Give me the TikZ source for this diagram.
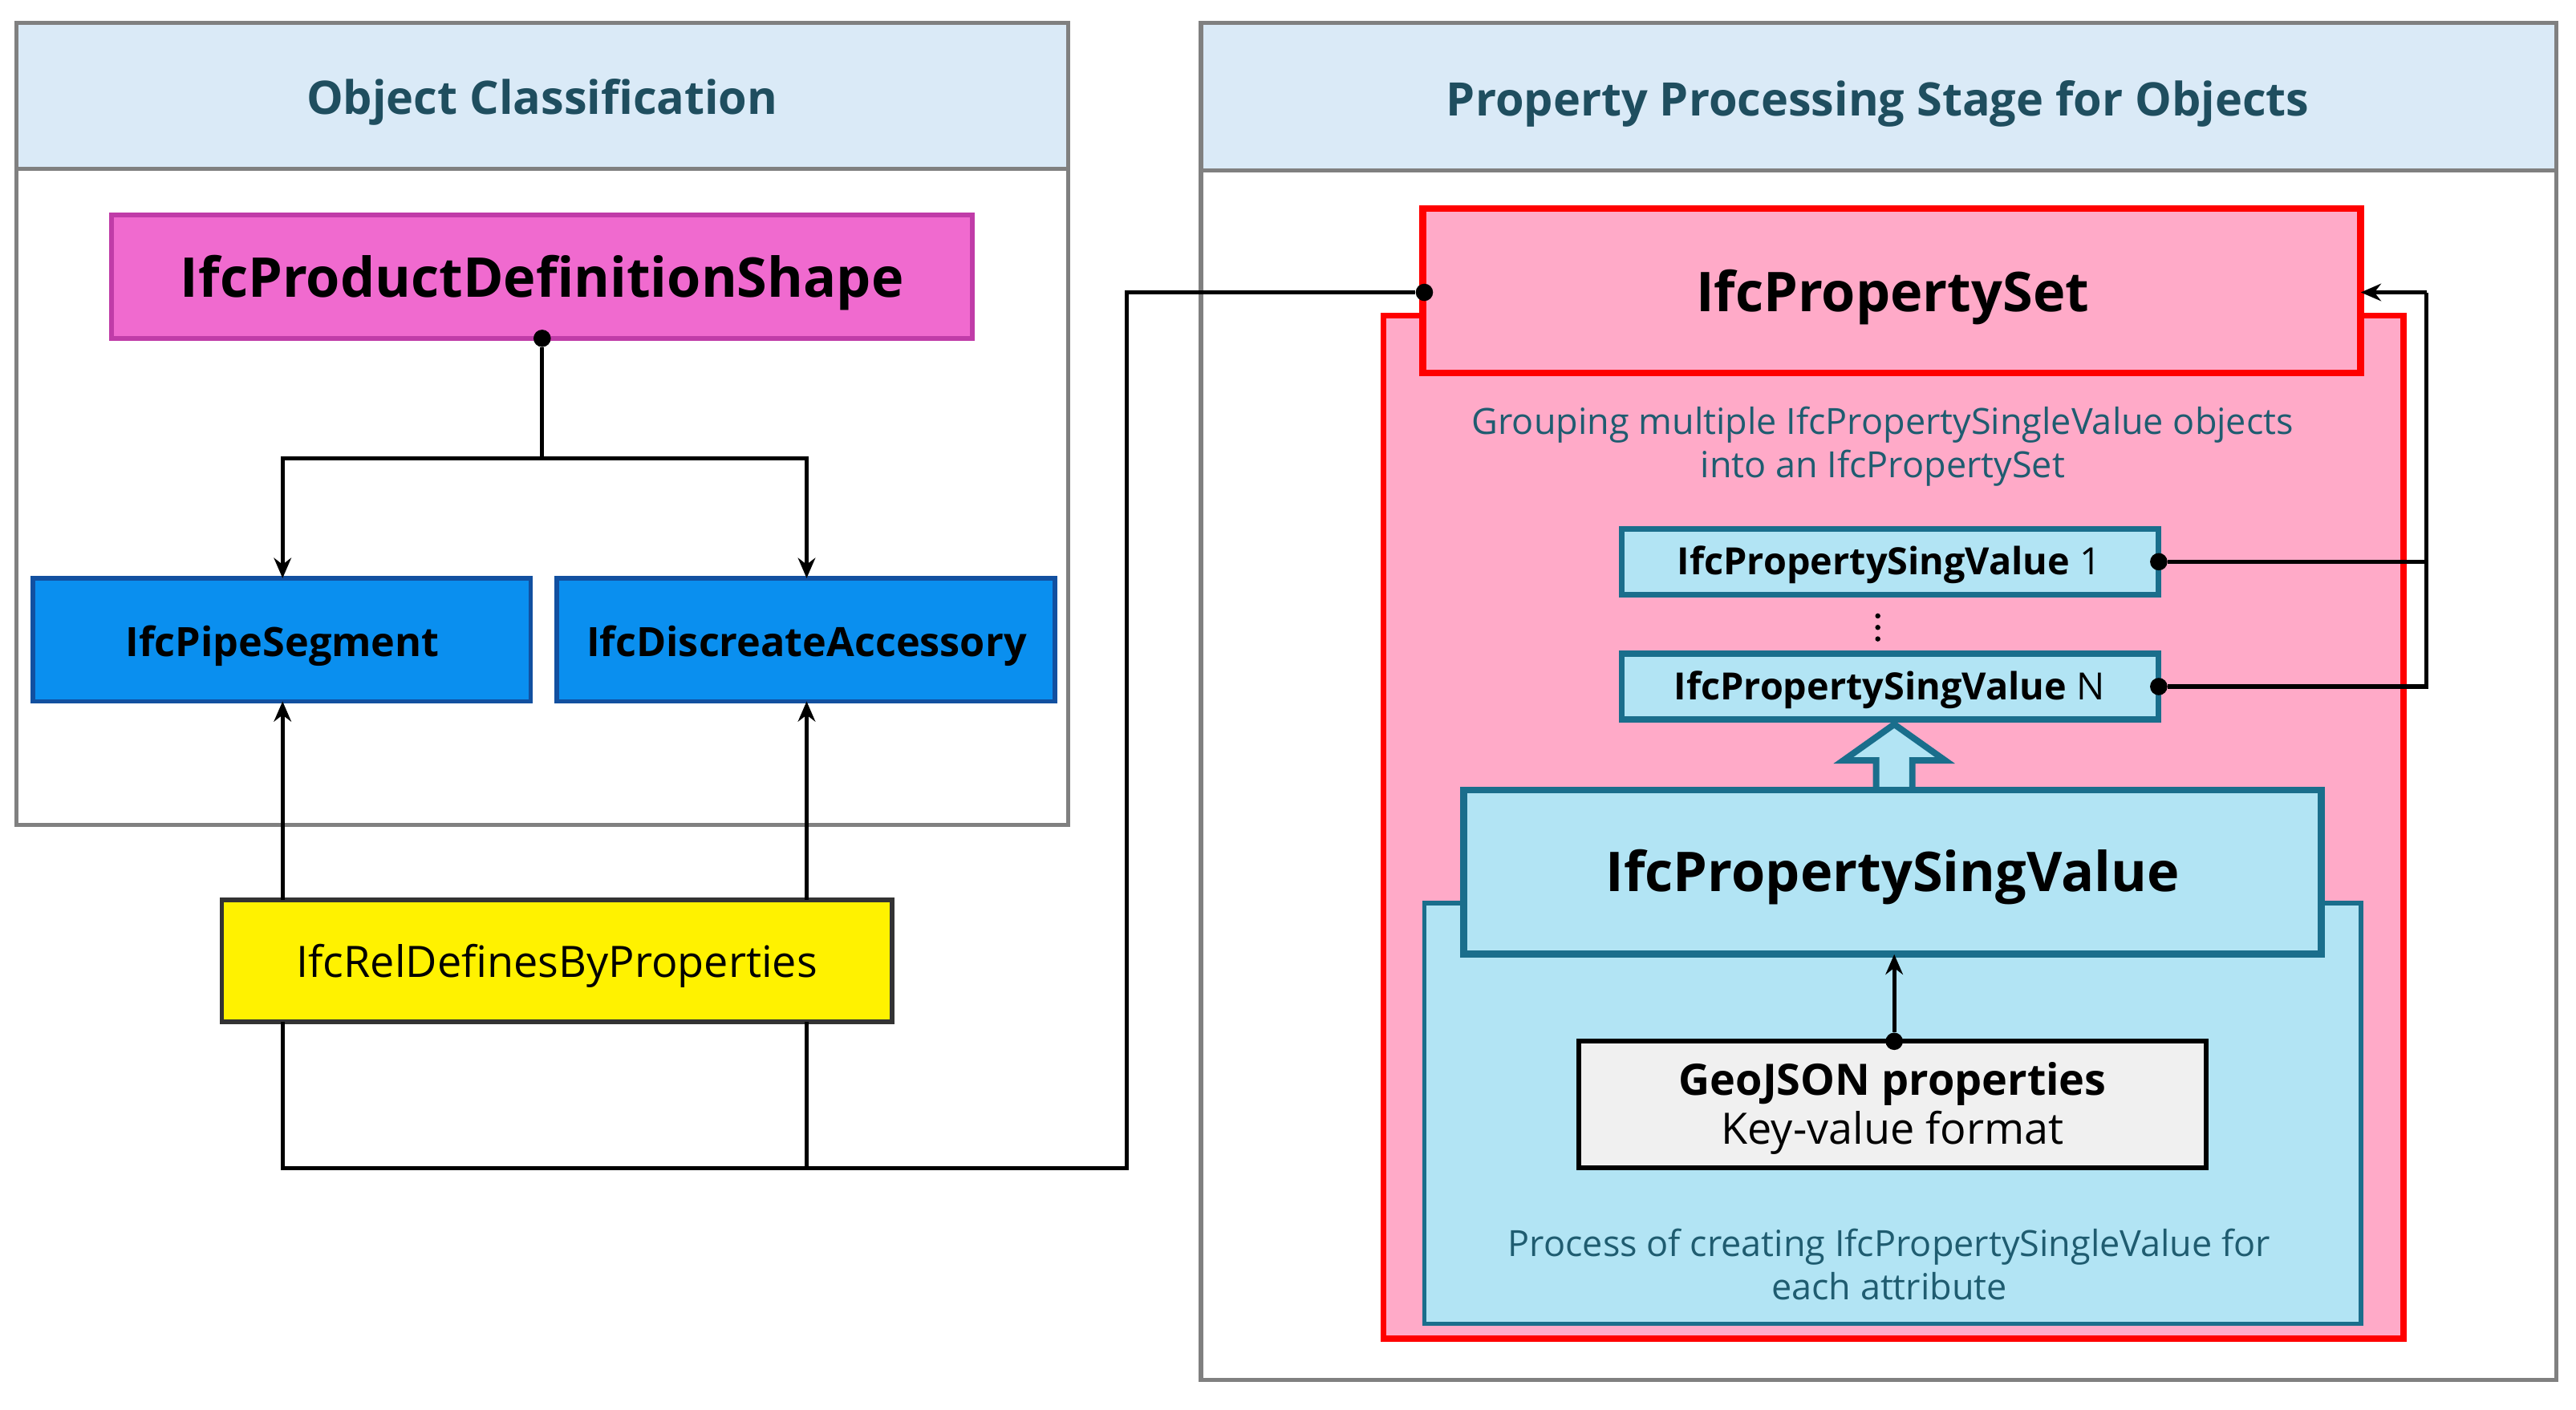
\documentclass[tikz,border=0pt]{standalone}
\usepackage{fontspec}
\setmainfont{Open Sans}
\usetikzlibrary{arrows.meta}
\definecolor{hdr}{HTML}{DAEAF7}
\definecolor{teal}{HTML}{1F4E5F}
\definecolor{mag}{HTML}{F06ACF}
\definecolor{magb}{HTML}{C03CA8}
\definecolor{blu}{HTML}{0A8FEF}
\definecolor{blub}{HTML}{1250A0}
\definecolor{pinkf}{HTML}{FFAAC8}
\definecolor{lb}{HTML}{B2E4F4}
\definecolor{lbb}{HTML}{1A6E8C}
\definecolor{ann}{HTML}{1F5C70}
\begin{document}
\begin{tikzpicture}[x=0.02cm,y=-0.02cm,
 box/.style={draw,line width=1.6pt,inner sep=0pt},
 lnk/.style={line width=1.4pt,-{Stealth[length=7pt,width=6pt]}},
 ln/.style={line width=1.4pt},
 dot/.style={circle,fill=black,inner sep=0pt,minimum size=6pt}]
\useasboundingbox (0,0) rectangle (1568,858);
% panels
\draw[gray,line width=1.4pt] (10,14) rectangle (650,502);
\draw[gray,line width=1.4pt,fill=hdr] (10,14) rectangle (650,103);
\node[text=teal,font=\fontsize{16}{19}\selectfont\bfseries] (t1) at (330,62) {Object Classification};
\draw[gray,line width=1.4pt] (731,14) rectangle (1556,840);
\draw[gray,line width=1.4pt,fill=hdr] (731,14) rectangle (1556,104);
\node[text=teal,font=\fontsize{16}{19}\selectfont\bfseries] (t2) at (1143,63) {Property Processing Stage for Objects};
% left nodes
\path[box,draw=magb,fill=mag] (68,131) rectangle (592,206);
\node[font=\fontsize{19}{22}\selectfont\bfseries] (pds) at (330,172) {IfcProductDefinitionShape};
\path[box,draw=blub,fill=blu] (20,352) rectangle (323,427);
\node[font=\fontsize{14}{17}\selectfont\bfseries] (ps) at (172,393) {IfcPipeSegment};
\path[box,draw=blub,fill=blu] (339,352) rectangle (642,427);
\node[font=\fontsize{14}{17}\selectfont\bfseries] (da) at (491,393) {IfcDiscreateAccessory};
\path[box,draw=black!80,fill=yellow] (135,548) rectangle (543,622);
\node[font=\fontsize{15}{18}\selectfont] (rel) at (339,588) {IfcRelDefinesByProperties};
% left connectors
\node[dot] (d1) at (330,206) {};
\coordinate (j1) at (330,279);
\draw[ln] (d1) -- (j1);
\draw[lnk] (j1) -| (172,352);
\draw[lnk] (j1) -| (491,352);
\draw[lnk] (172,548) -- (172,427);
\draw[lnk] (491,548) -- (491,427);
% right
\path[box,draw=red,line width=2pt,fill=pinkf] (842,192) rectangle (1463,815);
\path[box,draw=red,line width=2.4pt,fill=pinkf] (866,127) rectangle (1437,227);
\node[font=\fontsize{19}{22}\selectfont\bfseries] (pset) at (1152,181) {IfcPropertySet};
\node[text=ann,align=center,font=\fontsize{12.5}{15}\selectfont] (g) at (1146,272) {Grouping multiple IfcPropertySingleValue objects\\into an IfcPropertySet};
\path[box,draw=lbb,line width=2pt,fill=lb] (987,322) rectangle (1314,362);
\node[font=\fontsize{13}{16}\selectfont] (v1) at (1150,344) {\textbf{IfcPropertySingValue} 1};
\foreach \yy in {375,382,389} \fill (1143,\yy) circle (0.9pt);
\path[box,draw=lbb,line width=2pt,fill=lb] (987,398) rectangle (1314,438);
\node[font=\fontsize{13}{16}\selectfont] (vn) at (1150,420) {\textbf{IfcPropertySingValue} N};
\node[dot] (e1) at (1314,342) {};
\node[dot] (e2) at (1314,418) {};
\coordinate (r1) at (1477,342);
\coordinate (r2) at (1477,418);
\draw[ln] (e1) -- (r1);
\draw[ln] (e2) -- (r2) -- (1477,178);
\draw[lnk] (1477,178) -- (1437,178);
\path[box,draw=lbb,line width=1.6pt,fill=lb] (867,550) rectangle (1437,806);
\draw[draw=lbb,fill=lb,line width=2.2pt,line join=miter] (1153,441) -- (1184,463) -- (1164,463) -- (1164,492) -- (1142,492) -- (1142,463) -- (1122,463) -- cycle;
\path[box,draw=lbb,line width=2.4pt,fill=lb] (891,481) rectangle (1413,581);
\node[font=\fontsize{19}{22}\selectfont\bfseries] (sv) at (1152,534) {IfcPropertySingValue};
\path[box,draw=black,fill=black!6] (961,634) rectangle (1343,711);
\node[align=center,font=\fontsize{15}{17}\selectfont] (geo) at (1152,675) {\textbf{GeoJSON properties}\\Key-value format};
\node[dot] (d3) at (1153,634) {};
\draw[lnk] (d3) -- (1153,581);
\node[text=ann,align=center,font=\fontsize{12.5}{15}\selectfont] (pr) at (1150,770) {Process of creating IfcPropertySingleValue for\\each attribute};
% long connector
\node[dot] (d2) at (867,178) {};
\draw[ln] (172,622) -- (172,711) -- (686,711) -- (686,178) -- (d2);
\draw[ln] (491,622) -- (491,711);
\end{tikzpicture}
\end{document}
